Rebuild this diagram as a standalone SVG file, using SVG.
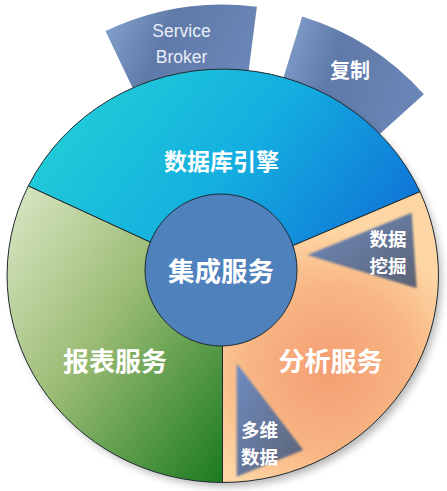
<svg xmlns="http://www.w3.org/2000/svg" width="447" height="491" viewBox="0 0 447 491">
<defs>
<linearGradient id="gTab" x1="0" y1="0" x2="1" y2="0.3">
<stop offset="0" stop-color="#8aa6d2"/>
<stop offset="0.45" stop-color="#5f79a8"/>
<stop offset="1" stop-color="#6a86b6"/>
</linearGradient>
<linearGradient id="gBlue" x1="0" y1="0.3" x2="1" y2="0.7">
<stop offset="0" stop-color="#22cfd6"/>
<stop offset="0.5" stop-color="#14afe0"/>
<stop offset="1" stop-color="#0f72d6"/>
</linearGradient>
<linearGradient id="gGreen" x1="0" y1="0" x2="1" y2="1">
<stop offset="0" stop-color="#dbe8c6"/>
<stop offset="0.45" stop-color="#9dbd76"/>
<stop offset="1" stop-color="#1b7a1f"/>
</linearGradient>
<radialGradient id="gOrange" cx="330" cy="370" r="140" gradientUnits="userSpaceOnUse">
<stop offset="0" stop-color="#f49e72"/>
<stop offset="0.6" stop-color="#f8b684"/>
<stop offset="1" stop-color="#fdd6a4"/>
</radialGradient>
<linearGradient id="gTri" x1="0" y1="0" x2="1" y2="1">
<stop offset="0" stop-color="#6f8cc2"/>
<stop offset="1" stop-color="#5c6272"/>
</linearGradient>
<filter id="shadow" x="-10%" y="-10%" width="130%" height="130%">
<feGaussianBlur stdDeviation="4"/>
</filter>
<filter id="soft" x="-10%" y="-10%" width="120%" height="120%">
<feGaussianBlur stdDeviation="1"/>
</filter>
</defs>
<style>
.seg{stroke:#1f2a30;stroke-width:1}
.tab{fill:url(#gTab)}
.tri{fill:url(#gTri);filter:url(#soft)}
.big{font-family:"Noto Sans CJK SC","Noto Sans",sans-serif;font-weight:bold;fill:#ffffff;text-anchor:middle}
.sm{font-size:18.5px}
.lat{font-family:"Liberation Sans",Arial,sans-serif;fill:#e8eef8;text-anchor:middle;font-size:17.5px}
</style>
<g id="tab-service-broker">
<path class="tab" d="M105.4,31.1 A271,271 0 0 1 256.9,6.7 L246.6,87 A190,190 0 0 0 140.4,104.2 Z"/>
<text class="lat" x="181.5" y="37">Service</text>
<text class="lat" x="181.5" y="63">Broker</text>
</g>
<g id="tab-replication">
<path class="tab" d="M302.2,16.5 A271,271 0 0 1 423.9,94.2 L363.7,148.4 A190,190 0 0 0 278.4,93.9 Z"/>
<text class="big" x="350" y="78" font-size="20">复制</text>
</g>
<ellipse cx="227" cy="281" rx="214" ry="205" fill="#000" opacity="0.3" filter="url(#shadow)"/>
<g id="seg-db-engine">
<path class="seg" fill="url(#gBlue)" d="M222.5,275.5 L28.3,186 A216,207 0 0 1 420,191.7 Z"/>
<text class="big" x="221.5" y="170" font-size="23">数据库引擎</text>
</g>
<g id="seg-analysis">
<path class="seg" fill="url(#gOrange)" d="M222.5,275.5 L420,191.7 A216,207 0 0 1 222.5,482.5 Z"/>
<text class="big" x="330.5" y="371" font-size="26">分析服务</text>
</g>
<g id="seg-reporting">
<path class="seg" fill="url(#gGreen)" d="M222.5,275.5 L222.5,482.5 A216,207 0 0 1 28.3,186 Z"/>
<text class="big" x="115" y="371" font-size="26">报表服务</text>
</g>
<g id="center">
<circle cx="221" cy="270" r="76" fill="#4f81bd" stroke="#1f2a30" stroke-width="1"/>
<text class="big" x="221" y="281" font-size="26.5">集成服务</text>
</g>
<g id="tri-datamining">
<path class="tri" d="M411.7,212.7 L307.3,255 L416.7,288.3 Z"/>
<text class="big sm" x="388" y="246">数据</text>
<text class="big sm" x="388" y="273">挖掘</text>
</g>
<g id="tri-multidim">
<path class="tri" d="M236.7,363.3 L236.7,476.7 L303.3,450 Z"/>
<text class="big sm" x="259.5" y="437">多维</text>
<text class="big sm" x="259.5" y="464">数据</text>
</g>
<g id="connectors"/>
</svg>
